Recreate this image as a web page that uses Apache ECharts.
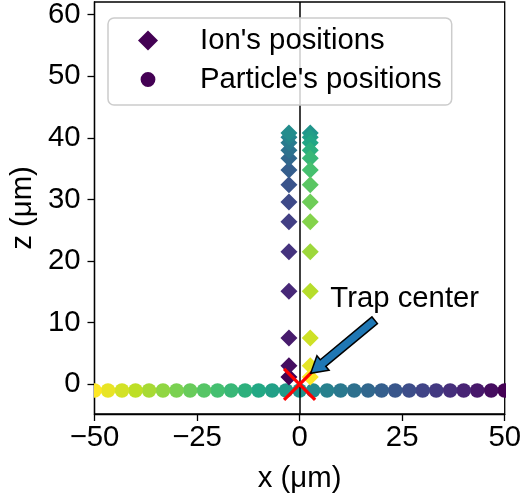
<!DOCTYPE html>
<html>
<head>
<meta charset="utf-8">
<script src="https://cdn.jsdelivr.net/npm/echarts@6/dist/echarts.min.js"></script>
<style>
  html, body { margin: 0; padding: 0; background: #fff; }
  #chart { width: 524px; height: 500px; }
</style>
</head>
<body>
<div id="chart"></div>
<script>
// ---------------- data ----------------
const xTicks = [-50, -25, 0, 25, 50];
const zTicks = [0, 10, 20, 30, 40, 50, 60];

// Ion positions (time order): up the left side, then down the right side
const ionX = [-2.6, -2.6, -2.6, -2.6, -2.6, -2.6, -2.6, -2.6, -2.6, -2.6, -2.6, -2.6, -2.6, -2.6,
               2.6,  2.6,  2.6,  2.6,  2.6,  2.6,  2.6,  2.6,  2.6,  2.6,  2.6,  2.6,  2.6,  2.6];
const ionZ = [1.2, 3.0, 7.5, 15.1, 21.5, 26.4, 29.6, 32.4, 34.8, 36.7, 38.0, 39.2, 40.1, 40.8,
              40.8, 40.1, 39.2, 38.0, 36.7, 34.8, 32.4, 29.6, 26.4, 21.5, 15.1, 7.5, 3.0, 1.2];

// Particle positions (time order: right to left)
const particleX = [50, 46.7, 43.3, 40, 36.7, 33.3, 30, 26.7, 23.3, 20, 16.7, 13.3, 10, 6.7, 3.3, 0,
                   -3.3, -6.7, -10, -13.3, -16.7, -20, -23.3, -26.7, -30, -33.3, -36.7, -40, -43.3, -46.7, -50];
const particleZ = [-1, -1, -1, -1, -1, -1, -1, -1, -1, -1, -1, -1, -1, -1, -1, -1,
                   -1, -1, -1, -1, -1, -1, -1, -1, -1, -1, -1, -1, -1, -1, -1];

const trapCenter = [0, 0];
const annotText = 'Trap center';
const annotTextPos = [7.5, 13.8];
const arrowTail = [18.3, 10.4];
const arrowTip = [2.7, 1.8];

// ---------------- viridis colormap ----------------
const viridisStops = ['#440154', '#482475', '#414487', '#355f8d', '#2a788e', '#21918c',
                      '#22a884', '#44bf70', '#7ad151', '#bddf26', '#fde725'];
function hexToRgb(h) { return [parseInt(h.slice(1,3),16), parseInt(h.slice(3,5),16), parseInt(h.slice(5,7),16)]; }
function viridis(t) {
  t = Math.max(0, Math.min(1, t));
  const s = t * (viridisStops.length - 1);
  const i = Math.min(Math.floor(s), viridisStops.length - 2);
  const f = s - i;
  const a = hexToRgb(viridisStops[i]), b = hexToRgb(viridisStops[i + 1]);
  const c = a.map((v, k) => Math.round(v + (b[k] - v) * f));
  return 'rgb(' + c.join(',') + ')';
}

const FONT = 'Liberation Sans, Arial, Helvetica, sans-serif';
const FS = 29.3;

const ionData = ionX.map((x, i) => ({
  value: [x, ionZ[i]],
  itemStyle: { color: viridis(i / (ionX.length - 1)), opacity: 1 }
}));
const particleColors = particleX.map((x, i) => viridis(i / (particleX.length - 1)));
const particleData = particleX.map((x, i) => [x, particleZ[i]]);

const minus = v => String(v).replace('-', '\u2212');

// legend circle icon: smaller circle inside a 20x20 box
const smallCircleIcon = 'path://M0,0L0.01,0M20,20L19.99,20M17.4,10A7.4,7.4,0,1,1,2.6,10A7.4,7.4,0,1,1,17.4,10Z';

const chart = echarts.init(document.getElementById('chart'), null, { renderer: 'canvas' });

const option = {
  animation: false,
  backgroundColor: '#ffffff',
  textStyle: { fontFamily: FONT },
  grid: {
    left: 93, right: 16, top: 2, bottom: 86,
    show: true, borderColor: '#000', borderWidth: 1.3, backgroundColor: 'transparent'
  },
  xAxis: {
    type: 'value', min: -50, max: 50, interval: 25,
    name: 'x (μm)', nameLocation: 'middle', nameGap: 50,
    nameTextStyle: { fontSize: FS, color: '#000', fontFamily: FONT },
    axisLine: { show: true, onZero: false, lineStyle: { color: '#000', width: 1.3 } },
    axisTick: { show: true, inside: false, length: 7, lineStyle: { color: '#000', width: 1.3 } },
    axisLabel: { fontSize: FS, color: '#000', fontFamily: FONT, margin: 9, formatter: minus,
                 showMinLabel: true, showMaxLabel: true },
    splitLine: { show: false }
  },
  yAxis: {
    type: 'value', min: -4.82, max: 62.06,
    name: 'z (μm)', nameLocation: 'middle', nameGap: 56,
    nameTextStyle: { fontSize: FS, color: '#000', fontFamily: FONT },
    axisLine: { show: true, onZero: false, lineStyle: { color: '#000', width: 1.3 } },
    axisTick: { show: true, inside: false, length: 7, customValues: zTicks, lineStyle: { color: '#000', width: 1.3 } },
    axisLabel: { fontSize: FS, color: '#000', fontFamily: FONT, margin: 14, customValues: zTicks, formatter: minus },
    splitLine: { show: false }
  },
  legend: {
    orient: 'vertical', left: 108, top: 18, z: 20,
    padding: [7, 10, 10, 30],
    itemWidth: 20, itemHeight: 20, itemGap: 8,
    selectedMode: false,
    backgroundColor: 'rgba(255,255,255,0.8)',
    borderColor: '#cccccc', borderWidth: 1.5, borderRadius: 6,
    textStyle: { fontSize: FS, color: '#000', fontFamily: FONT, lineHeight: 31, padding: [0, 0, 0, 37] },
    data: [
      { name: "Ion's positions", icon: 'diamond' },
      { name: "Particle's positions", icon: smallCircleIcon }
    ]
  },
  series: [
    {
      name: "Particle's positions",
      type: 'custom',
      z: 2,
      clip: true,
      itemStyle: { color: '#440154' },
      encode: { x: 0, y: 1 },
      data: particleData,
      renderItem: function (params, api) {
        const p = api.coord([api.value(0), api.value(1)]);
        return { type: 'circle', shape: { cx: p[0], cy: p[1], r: 7.3 },
                 style: { fill: particleColors[params.dataIndex] } };
      }
    },
    {
      name: "Ion's positions",
      type: 'scatter',
      z: 3,
      symbol: 'diamond',
      symbolSize: 17,
      itemStyle: { color: '#440154', opacity: 1 },
      emphasis: { disabled: true },
      data: ionData
    },
    {
      name: 'axvline',
      type: 'scatter',
      z: 4,
      data: [],
      markLine: {
        silent: true, symbol: ['none', 'none'], animation: false,
        label: { show: false },
        lineStyle: { color: '#000', width: 1.5, type: 'solid', opacity: 1 },
        emphasis: { disabled: true },
        data: [{ xAxis: 0 }]
      }
    },
    {
      name: 'Trap',
      type: 'custom',
      z: 5,
      clip: false,
      data: [trapCenter],
      encode: { x: 0, y: 1 },
      renderItem: function (params, api) {
        const p = api.coord([api.value(0), api.value(1)]);
        const h = 15.5;
        const st = { stroke: '#ff0000', lineWidth: 3.2 };
        return { type: 'group', children: [
          { type: 'line', shape: { x1: p[0] - h, y1: p[1] - h, x2: p[0] + h, y2: p[1] + h }, style: st },
          { type: 'line', shape: { x1: p[0] - h, y1: p[1] + h, x2: p[0] + h, y2: p[1] - h }, style: st }
        ] };
      }
    }
  ]
};
chart.setOption(option);

// Annotation: text + fancy arrow (positions converted from data space)
const tp = chart.convertToPixel({ gridIndex: 0 }, annotTextPos);
const a0 = chart.convertToPixel({ gridIndex: 0 }, arrowTail);
const a1 = chart.convertToPixel({ gridIndex: 0 }, arrowTip);
const dx = a1[0] - a0[0], dy = a1[1] - a0[1];
const L = Math.sqrt(dx * dx + dy * dy);
const ux = dx / L, uy = dy / L, nx = -uy, ny = ux;
const shaftW = 4.3, headW = 9.5, headL = 16;
const neck = [a1[0] - ux * headL, a1[1] - uy * headL];
const pts = [
  [a0[0] + nx * shaftW, a0[1] + ny * shaftW],
  [neck[0] + nx * shaftW, neck[1] + ny * shaftW],
  [neck[0] + nx * headW, neck[1] + ny * headW],
  [a1[0], a1[1]],
  [neck[0] - nx * headW, neck[1] - ny * headW],
  [neck[0] - nx * shaftW, neck[1] - ny * shaftW],
  [a0[0] - nx * shaftW, a0[1] - ny * shaftW]
];
chart.setOption({
  graphic: [
    { type: 'polygon', z: 10, shape: { points: pts },
      style: { fill: '#1f77b4', stroke: '#000', lineWidth: 1.5, lineJoin: 'miter' } },
    { type: 'text', z: 10, x: tp[0], y: tp[1],
      style: { text: annotText, fontSize: FS, fontFamily: FONT, fill: '#000',
               align: 'left', verticalAlign: 'middle' } }
  ]
});
</script>
</body>
</html>
